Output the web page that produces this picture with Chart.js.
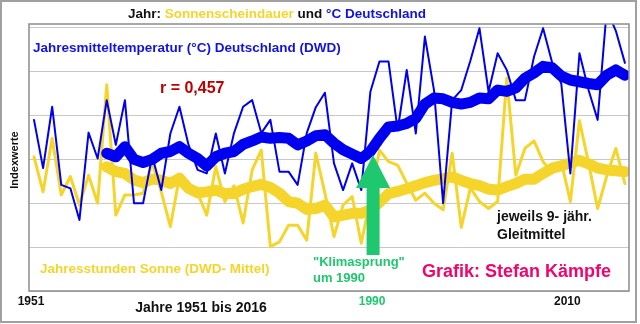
<!DOCTYPE html>
<html>
<head>
<meta charset="utf-8">
<script src="https://cdn.jsdelivr.net/npm/chart.js@4.4.1/dist/chart.umd.min.js"></script>
<style>
  html, body { margin: 0; padding: 0; background: #fff; }
  #wrap { width: 640px; height: 324px; }
</style>
</head>
<body>
<div id="wrap"><canvas id="c" width="640" height="324"></canvas></div>
<script>
// Years 1951–2016
const years = [
  1951, 1952, 1953, 1954, 1955, 1956, 1957, 1958, 1959, 1960,
  1961, 1962, 1963, 1964, 1965, 1966, 1967, 1968, 1969, 1970,
  1971, 1972, 1973, 1974, 1975, 1976, 1977, 1978, 1979, 1980,
  1981, 1982, 1983, 1984, 1985, 1986, 1987, 1988, 1989, 1990,
  1991, 1992, 1993, 1994, 1995, 1996, 1997, 1998, 1999, 2000,
  2001, 2002, 2003, 2004, 2005, 2006, 2007, 2008, 2009, 2010,
  2011, 2012, 2013, 2014, 2015, 2016
];

// Annual mean temperature Germany (DWD), index values
const tempIndex = [
  3.90, 2.80, 4.20, 2.42, 2.34, 1.62, 3.61, 3.02, 4.35, 3.33,
  4.35, 2.00, 2.00, 3.08, 2.30, 3.59, 4.20, 3.33, 2.76, 2.68,
  3.59, 2.68, 3.60, 4.20, 4.35, 3.60, 3.90, 2.72, 2.72, 2.42,
  3.60, 4.19, 4.52, 2.91, 2.30, 2.91, 2.30, 4.54, 5.23, 5.23,
  3.67, 5.04, 3.59, 5.80, 4.58, 2.00, 4.35, 4.58, 5.25, 5.99,
  4.54, 5.42, 5.04, 4.35, 4.35, 5.34, 5.99, 5.20, 4.73, 2.68,
  5.42, 4.58, 3.90, 6.41, 5.93, 5.20
];

// Annual sunshine hours Germany (DWD mean), index values
const sunIndex = [
  3.06, 2.26, 3.48, 2.19, 2.61, 1.96, 2.64, 2.00, 4.70, 1.73,
  2.19, 2.19, 2.23, 2.92, 2.26, 1.47, 2.61, 2.38, 2.23, 1.73,
  2.83, 2.04, 2.40, 1.55, 2.76, 3.21, 1.01, 1.12, 1.50, 1.50,
  1.16, 3.14, 2.23, 1.24, 1.96, 2.15, 1.09, 2.10, 3.21, 2.95,
  2.87, 2.46, 2.07, 2.23, 2.00, 1.85, 3.14, 1.45, 2.35, 2.04,
  1.88, 2.04, 4.85, 2.64, 3.25, 3.42, 2.95, 2.69, 2.95, 2.04,
  3.88, 2.92, 1.88, 2.62, 3.25, 2.45
];

// 9-year moving means, plotted at the last year of each window (1959–2016)
const maFirstYear = 1959;
const tempMA9 = [
  3.14, 3.06, 3.29, 3.00, 2.93, 3.00, 3.14, 3.18, 3.29, 3.14,
  3.02, 2.85, 3.06, 3.14, 3.18, 3.34, 3.42, 3.51, 3.48, 3.50,
  3.48, 3.33, 3.42, 3.54, 3.56, 3.37, 3.22, 3.12, 3.02, 3.18,
  3.48, 3.74, 3.76, 3.82, 3.94, 4.26, 4.40, 4.38, 4.30, 4.26,
  4.30, 4.40, 4.38, 4.58, 4.55, 4.63, 4.85, 4.97, 5.12, 5.09,
  4.90, 4.81, 4.77, 4.73, 4.70, 4.92, 5.04, 4.92
];
const sunMA9 = [
  2.83, 2.72, 2.68, 2.53, 2.47, 2.55, 2.53, 2.45, 2.57, 2.34,
  2.24, 2.26, 2.30, 2.22, 2.22, 2.32, 2.38, 2.43, 2.36, 2.23,
  2.04, 2.00, 1.86, 1.88, 1.96, 1.69, 1.73, 1.77, 1.77, 1.85,
  2.02, 2.22, 2.27, 2.33, 2.40, 2.47, 2.52, 2.56, 2.60, 2.52,
  2.45, 2.40, 2.32, 2.30, 2.38, 2.45, 2.55, 2.55, 2.68, 2.80,
  2.85, 2.92, 2.98, 2.90, 2.80, 2.76, 2.74, 2.72
];

// Axis labelling
const xTickYears = [1951, 2010];
const yGridValues = [0, 1, 2, 3, 4, 5, 6];

// "Klimasprung" marker
const jumpYear = 1988.3;
const jumpLabel = '1990';

const BLUE = '#0000f0';
const BLUE_TEXT = '#1212e2';
const YELLOW = '#f5d52b';
const GREEN = '#1fc86e';
const FONT = '"Liberation Sans", Arial, sans-serif';
Chart.defaults.font.family = FONT;

const toPoints = (vals, startYear) => vals.map((v, i) => ({ x: startYear + i, y: v }));

function txt(ctx, s, x, y, size, color, align) {
  ctx.font = 'bold ' + size + 'px ' + FONT;
  ctx.fillStyle = color;
  ctx.textAlign = align || 'left';
  ctx.textBaseline = 'middle';
  ctx.fillText(s, x, y);
  return ctx.measureText(s).width;
}

const decor = {
  id: 'decor',
  beforeDraw(chart) {
    const ctx = chart.ctx;
    ctx.save();
    ctx.fillStyle = '#fff';
    ctx.fillRect(0, 0, chart.width, chart.height);
    ctx.strokeStyle = '#a0a0a0';
    ctx.lineWidth = 2;
    ctx.strokeRect(1, 1, 635, 321);
    ctx.restore();
  },
  afterDatasetsDraw(chart) {
    const ctx = chart.ctx;
    const a = chart.chartArea;
    const xs = chart.scales.x, ys = chart.scales.y;
    ctx.save();

    // plot frame
    ctx.strokeStyle = '#8c8c8c';
    ctx.lineWidth = 1.5;
    ctx.strokeRect(a.left, a.top, a.right - a.left, a.bottom - a.top);

    // green arrow
    const ax = xs.getPixelForValue(jumpYear);
    const tipY = ys.getPixelForValue(3.10);
    const neckY = ys.getPixelForValue(2.35);
    const footY = ys.getPixelForValue(0.82);
    ctx.fillStyle = GREEN;
    ctx.beginPath();
    ctx.moveTo(ax, tipY);
    ctx.lineTo(ax + 17, neckY);
    ctx.lineTo(ax + 6.5, neckY);
    ctx.lineTo(ax + 6.5, footY);
    ctx.lineTo(ax - 6.5, footY);
    ctx.lineTo(ax - 6.5, neckY);
    ctx.lineTo(ax - 17, neckY);
    ctx.closePath();
    ctx.fill();

    // title line
    let x = 128;
    x += txt(ctx, 'Jahr: ', x, 14, 13.5, '#111');
    x += txt(ctx, 'Sonnenscheindauer', x, 14, 13.5, YELLOW);
    x += txt(ctx, ' und ', x, 14, 13.5, '#111');
    txt(ctx, '°C Deutschland', x, 14, 13.5, BLUE_TEXT);

    // series captions inside the plot
    txt(ctx, 'Jahresmitteltemperatur (°C) Deutschland (DWD)', 33, 48, 13.5, BLUE_TEXT);
    txt(ctx, 'r = 0,457', 160, 89, 16, '#c00000');
    txt(ctx, 'jeweils 9- jähr.', 497, 217, 14, '#111');
    txt(ctx, 'Gleitmittel', 497, 235, 14, '#111');
    txt(ctx, 'Jahresstunden Sonne (DWD- Mittel)', 40, 269, 13.5, YELLOW);
    txt(ctx, '"Klimasprung"', 313, 262, 13, GREEN);
    txt(ctx, 'um 1990', 313, 278, 13, GREEN);
    txt(ctx, 'Grafik: Stefan Kämpfe', 422, 272, 18, '#f2046c');

    // x labels
    xTickYears.forEach(yr => {
      txt(ctx, String(yr), xs.getPixelForValue(yr) - 3, 302, 12, '#111', 'center');
    });
    txt(ctx, jumpLabel, ax - 1, 302, 12, GREEN, 'center');
    txt(ctx, 'Jahre 1951 bis 2016', 201, 308, 14, '#111', 'center');

    // y title
    ctx.translate(15, 160);
    ctx.rotate(-Math.PI / 2);
    txt(ctx, 'Indexwerte', 0, 0, 11, '#111', 'center');
    ctx.restore();
  }
};

new Chart(document.getElementById('c'), {
  type: 'line',
  data: {
    datasets: [
      { label: 'Temperatur 9-j. Mittel', data: toPoints(tempMA9, maFirstYear),
        borderColor: BLUE, borderWidth: 11, order: 0 },
      { label: 'Temperatur', data: toPoints(tempIndex, years[0]),
        borderColor: BLUE, borderWidth: 2, order: 1, clip: 0 },
      { label: 'Sonne 9-j. Mittel', data: toPoints(sunMA9, maFirstYear),
        borderColor: YELLOW, borderWidth: 11, order: 2 },
      { label: 'Sonne', data: toPoints(sunIndex, years[0]),
        borderColor: YELLOW, borderWidth: 3, order: 3, clip: 0 }
    ]
  },
  options: {
    responsive: false,
    animation: false,
    devicePixelRatio: 1,
    layout: { padding: { left: 29, right: 11, top: 24, bottom: 33 } },
    plugins: { legend: { display: false }, tooltip: { enabled: false } },
    elements: {
      point: { radius: 0 },
      line: { tension: 0, borderCapStyle: 'round', borderJoinStyle: 'round', fill: false }
    },
    scales: {
      x: { type: 'linear', min: 1950.45, max: 2016.45, display: false },
      y: {
        min: 0, max: 6.086,
        afterBuildTicks: s => { s.ticks = yGridValues.map(v => ({ value: v })); },
        ticks: { display: false },
        grid: { color: '#c8c8c8', lineWidth: 1, drawTicks: false },
        border: { display: false }
      }
    }
  },
  plugins: [decor]
});
</script>
</body>
</html>
